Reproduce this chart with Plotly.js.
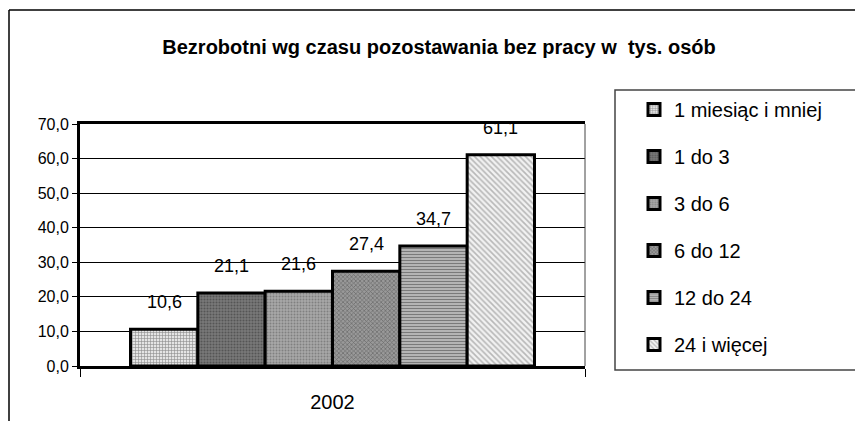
<!DOCTYPE html>
<html><head><meta charset="utf-8">
<script src="https://cdn.plot.ly/plotly-3.0.1.min.js"></script>
<style>html,body{margin:0;padding:0;background:#fff;}#chart{width:855px;height:421px;}</style>
</head><body><div id="chart"></div>
<script>
const category = ["2002"];
const seriesNames = ["1 miesiąc i mniej", "1 do 3", "3 do 6", "6 do 12", "12 do 24", "24 i więcej"];
const seriesValues = [10.6, 21.1, 21.6, 27.4, 34.7, 61.1];
const yTicks = [0, 10, 20, 30, 40, 50, 60, 70];

const patterns = [
  {shape: "+", bgcolor: "#e4e4e4", fgcolor: "#8a8a8a", size: 3, solidity: 0.35},
  {shape: ".", bgcolor: "#7a7a7a", fgcolor: "#555555", size: 3, solidity: 0.4},
  {shape: ".", bgcolor: "#a8a8a8", fgcolor: "#808080", size: 3, solidity: 0.35},
  {shape: "x", bgcolor: "#999999", fgcolor: "#6a6a6a", size: 3, solidity: 0.4},
  {shape: "-", bgcolor: "#c0c0c0", fgcolor: "#7a7a7a", size: 3, solidity: 0.45},
  {shape: "\\", bgcolor: "#f2f2f2", fgcolor: "#b8b8b8", size: 4, solidity: 0.4}
];

const FONT = "Liberation Sans, Arial, sans-serif";
const BARGAP = 0.2;
const nS = seriesValues.length;
const traces = seriesNames.map((name, i) => ({
  type: "bar",
  name: name,
  x: category,
  y: [seriesValues[i]],
  legendgroup: "g" + i,
  marker: {pattern: patterns[i], line: {color: "#000", width: 3}},
  hoverinfo: "skip"
}));

const barW = (1 - BARGAP) / nS;
const annotations = seriesValues.map((v, i) => ({
  xref: "x", yref: "y",
  x: -(1 - BARGAP) / 2 + barW * (i + 0.5),
  y: v,
  yshift: 27,
  text: v.toFixed(1).replace(".", ","),
  showarrow: false,
  font: {family: FONT, size: 18, color: "#000"},
  yanchor: "middle"
}));

const L = 80, R = 270, T = 124, B = 55;
const W = 855 - L - R, H = 421 - T - B;
const px = v => (v - L) / W;
const py = v => 1 - (v - T) / H;

const layout = {
  width: 855, height: 421,
  margin: {l: L, r: R, t: T, b: B},
  paper_bgcolor: "#fff", plot_bgcolor: "#fff",
  separators: ", ",
  barmode: "group", bargap: BARGAP, bargroupgap: 0,
  font: {family: FONT, color: "#000"},
  title: {
    text: "<b>Bezrobotni wg czasu pozostawania bez pracy w  tys. osób</b>",
    font: {family: FONT, size: 20, color: "#000"},
    x: 439 / 855, xanchor: "center", y: 1 - 47 / 421, yanchor: "middle"
  },
  xaxis: {
    type: "category",
    showline: true, linecolor: "#000", linewidth: 3, mirror: true,
    ticks: "outside", tickson: "boundaries", ticklen: 8, tickwidth: 1, tickcolor: "#000",
    ticklabelstandoff: 16,
    tickfont: {family: FONT, size: 20, color: "#000"},
    showgrid: false, zeroline: false, fixedrange: true
  },
  yaxis: {
    range: [0, 70], tickvals: yTicks, tickformat: ".1f",
    showline: true, linecolor: "#000", linewidth: 3,
    ticks: "outside", ticklen: 5, tickwidth: 1, tickcolor: "#000",
    showgrid: true, gridcolor: "#000", gridwidth: 1,
    zeroline: false,
    tickfont: {family: FONT, size: 16, color: "#000"},
    fixedrange: true
  },
  legend: {
    x: px(634), xanchor: "left", y: py(90), yanchor: "top",
    bgcolor: "rgba(0,0,0,0)", borderwidth: 0,
    font: {family: FONT, size: 20, color: "#000"},
    tracegroupgap: 18, traceorder: "grouped",
    maxheight: 400,
    itemclick: false, itemdoubleclick: false
  },
  showlegend: true,
  annotations: annotations,
  shapes: [
    {type: "line", xref: "paper", yref: "paper", x0: 1, x1: 1, y0: 0, y1: 1, line: {color: "#444", width: 1}},
    {type: "rect", xref: "paper", yref: "paper", x0: px(615), x1: px(880), y0: py(370), y1: py(90), line: {color: "#444", width: 1.5}, layer: "below"},
    {type: "line", xref: "paper", yref: "paper", x0: px(9), x1: px(9), y0: py(10), y1: py(430), line: {color: "#000", width: 1.5}},
    {type: "line", xref: "paper", yref: "paper", x0: px(9), x1: px(870), y0: py(10), y1: py(10), line: {color: "#000", width: 1.5}}
  ]
};

Plotly.newPlot("chart", traces, layout, {displayModeBar: false, staticPlot: true});
</script>
</body></html>
